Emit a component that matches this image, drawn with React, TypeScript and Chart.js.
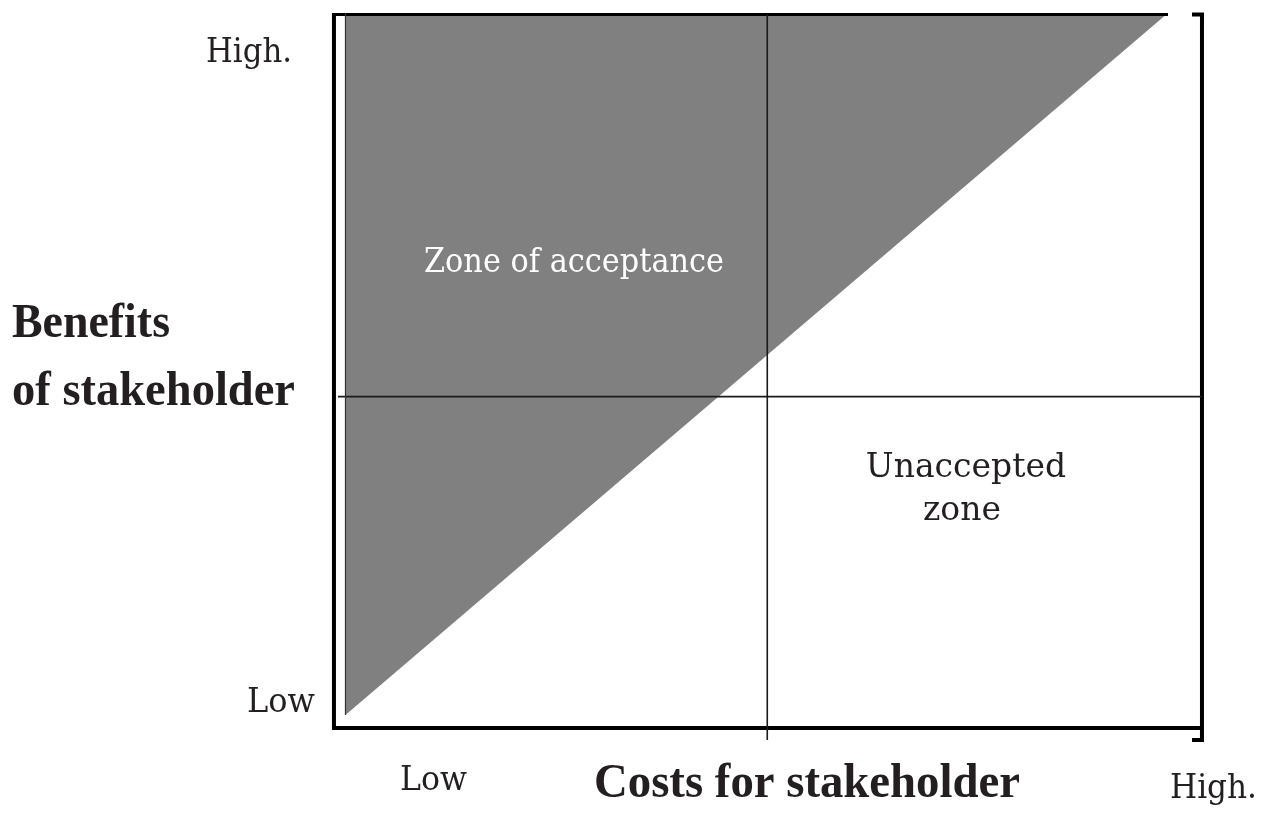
import React, { useEffect, useRef } from "react";
import { Chart, registerables } from "chart.js";

Chart.register(...registerables);

// Data (conceptual 0-100 scales: costs on x, benefits on y)
const acceptanceLine = [
  { x: 0, y: 0 },
  { x: 100, y: 100 },
];
const acceptanceLeftEdge = [
  { x: 0, y: 0 },
  { x: 0, y: 100 },
];
const costMidline = [
  { x: 51.28, y: 99.79 },
  { x: 51.28, y: -3.56 },
];
const benefitMidline = [
  { x: -0.91, y: 45.35 },
  { x: 104.13, y: 45.35 },
];
const frameTop = [
  { x: -1.64, y: 99.79 },
  { x: 100, y: 99.79 },
];
const frameLeft = [
  { x: -1.4, y: 100 },
  { x: -1.4, y: -2.14 },
];
const frameBottom = [
  { x: -1.64, y: -1.85 },
  { x: 103.95, y: -1.85 },
];
const frameBracket = [
  { x: 102.92, y: 99.79 },
  { x: 104.13, y: 99.79 },
  { x: 104.13, y: -3.56 },
  { x: 102.92, y: -3.56 },
];

const yTickLabels = ["High.", "Low"];
const xTickLabels = ["Low", "High."];
const yTitle = ["Benefits", "of stakeholder"];
const xTitle = "Costs for stakeholder";
const zoneAccept = "Zone of acceptance";
const zoneReject = ["Unaccepted", "zone"];

const REG = '"DejaVu Serif", "Liberation Serif", serif';
const BOLD = 'bold 48px "Liberation Serif", "Times New Roman", serif';
const TXT = "#231f20";

const labelPlugin = {
  id: "labels",
  afterDraw(chart: any) {
    const ctx = chart.ctx as CanvasRenderingContext2D;
    ctx.save();
    ctx.textBaseline = "alphabetic";
    const reg = (t: string, x: number, y: number, w: number, align: CanvasTextAlign, color = TXT) => {
      ctx.font = `33px ${REG}`;
      ctx.fillStyle = color;
      ctx.textAlign = align;
      ctx.fillText(t, x, y, w);
    };
    reg(yTickLabels[0], 292, 62, 86, "right");
    reg(yTickLabels[1], 315, 712, 68, "right");
    reg(xTickLabels[0], 400, 790, 67, "left");
    reg(xTickLabels[1], 1257, 798, 87, "right");
    reg(zoneAccept, 574, 272, 300, "center", "#ffffff");
    reg(zoneReject[0], 966, 477, 208, "center");
    reg(zoneReject[1], 962, 520, 90, "center");

    ctx.font = BOLD;
    ctx.fillStyle = TXT;
    ctx.textAlign = "left";
    ctx.fillText(yTitle[0], 12, 337, 158);
    ctx.fillText(yTitle[1], 12, 405, 283);
    ctx.textAlign = "center";
    ctx.fillText(xTitle, 807, 797, 426);
    ctx.restore();
  },
};

const lineDs = (data: any[], width: number, color = "#000000", extra: any = {}) => ({
  type: "line" as const,
  data,
  borderColor: color,
  borderWidth: width,
  pointRadius: 0,
  fill: false,
  tension: 0,
  clip: false as any,
  borderJoinStyle: "miter" as const,
  borderCapStyle: "butt" as const,
  order: 0,
  ...extra,
});

export default function App() {
  const ref = useRef<HTMLCanvasElement>(null);
  useEffect(() => {
    if (!ref.current) return;
    const chart = new Chart(ref.current, {
      type: "line",
      data: {
        datasets: [
          lineDs(acceptanceLine, 0, "rgba(0,0,0,0)", {
            fill: { value: 100 },
            backgroundColor: "#808080",
            order: 10,
          }),
          lineDs(acceptanceLeftEdge, 1.2, "#333333"),
          lineDs(costMidline, 1.6, "#1a1a1a"),
          lineDs(benefitMidline, 1.6, "#1a1a1a"),
          lineDs(frameTop, 3),
          lineDs(frameLeft, 4),
          lineDs(frameBottom, 4),
          lineDs(frameBracket, 4),
        ] as any,
      },
      options: {
        responsive: false,
        animation: false,
        layout: { padding: { left: 320.8, right: 53.65, top: 5.98, bottom: 64.9 } },
        plugins: { legend: { display: false }, tooltip: { enabled: false } },
        scales: {
          x: { type: "linear", min: -3, max: 106, display: false },
          y: { type: "linear", min: -5, max: 101, display: false },
        },
      },
      plugins: [labelPlugin],
    });
    return () => chart.destroy();
  }, []);
  return (
    <div style={{ position: "fixed", left: 0, top: 0, width: 1271, height: 815, background: "#fff" }}>
      <canvas ref={ref} width={1271} height={815} style={{ display: "block" }} />
    </div>
  );
}
